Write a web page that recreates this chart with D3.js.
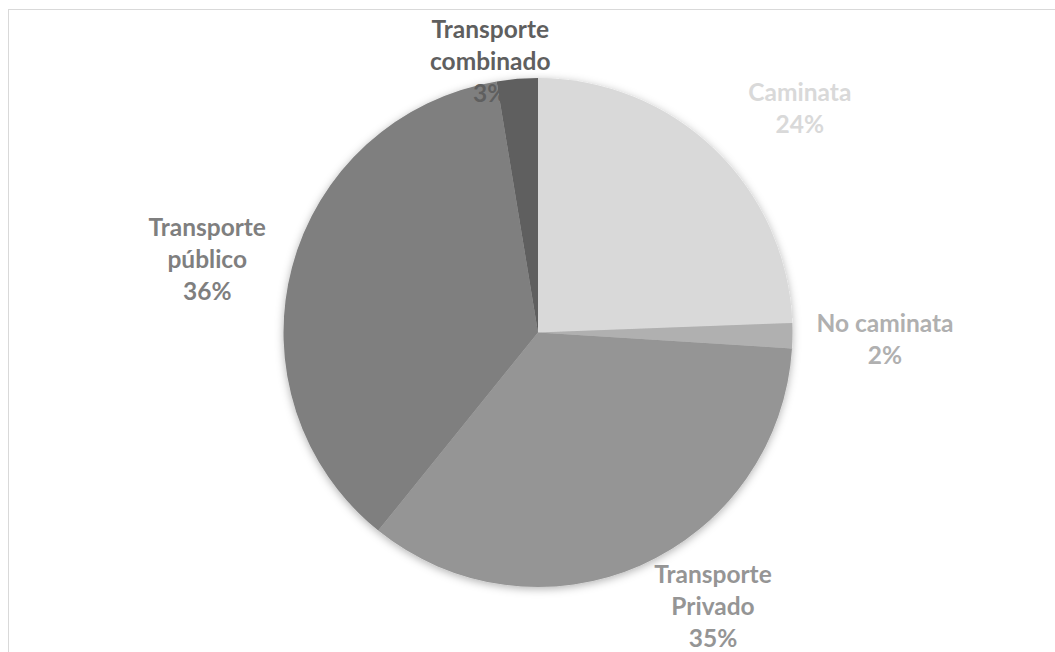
<!DOCTYPE html>
<html>
<head>
<meta charset="utf-8">
<script src="https://cdn.jsdelivr.net/npm/d3@7"></script>
<style>
  body { margin: 0; background: #fff; }
  svg { display: block; }
</style>
</head>
<body>
<div id="chart"></div>
<script>
// Data (slice shares, in percent)
const categories = ["Caminata", "No caminata", "Transporte Privado", "Transporte público", "Transporte combinado"];
const values = [24.4, 1.6, 34.8, 36.6, 2.6];
const labelLines = [
    ["Caminata", "24%"],
    ["No caminata", "2%"],
    ["Transporte", "Privado", "35%"],
    ["Transporte", "público", "36%"],
    ["Transporte", "combinado", "3%"]
];
const colors = ["#d9d9d9", "#b0b0b0", "#959595", "#7f7f7f", "#5f5f5f"];

// label nudges from the outside arc, like excel's "best fit"
const nudges = [[26, 21], [7, 3], [38, -37], [-2, 14], [-20, 68]];

const width = 1055, height = 652;
const cx = 538, cy = 332.5, radius = 254.5;

const svg = d3.select("#chart")
    .append("svg")
    .attr("width", width)
    .attr("height", height);

// chart frame
svg.append("rect")
    .attr("x", 8.5)
    .attr("y", 9.5)
    .attr("width", width)
    .attr("height", height)
    .attr("fill", "none")
    .attr("stroke", "#d9d9d9")
    .attr("stroke-width", 1);

// soft shadow around the pie
const defs = svg.append("defs");
const filter = defs.append("filter")
    .attr("id", "shadow")
    .attr("x", "-10%").attr("y", "-10%")
    .attr("width", "120%").attr("height", "120%");
filter.append("feDropShadow")
    .attr("dx", 0).attr("dy", 2)
    .attr("stdDeviation", 4)
    .attr("flood-color", "#000")
    .attr("flood-opacity", 0.3);

const g = svg.append("g")
    .attr("transform", "translate(" + cx + "," + cy + ")");

const pie = d3.pie().sort(null).value(d => d);
const arcs = pie(values);

const arc = d3.arc().innerRadius(0).outerRadius(radius);
const labelArc = d3.arc().innerRadius(340).outerRadius(340);

const slices = g.append("g").attr("filter", "url(#shadow)");
slices.selectAll("path")
    .data(arcs)
    .enter().append("path")
    .attr("d", arc)
    .attr("fill", (d, i) => colors[i]);

// labels
const lineHeight = 32;
const labels = g.selectAll("text.label")
    .data(arcs)
    .enter().append("text")
    .attr("class", "label")
    .attr("text-anchor", "middle")
    .attr("font-family", "Lato, 'Open Sans', sans-serif")
    .attr("font-weight", "bold")
    .attr("font-size", 24.5)
    .attr("fill", (d, i) => colors[i])
    .attr("transform", (d, i) => {
        const c = labelArc.centroid(d);
        return "translate(" + (c[0] + nudges[i][0]) + "," + (c[1] + nudges[i][1]) + ")";
    });

labels.each(function(d, i) {
    const lines = labelLines[i];
    const top = -(lines.length - 1) * lineHeight / 2;
    d3.select(this).selectAll("tspan")
        .data(lines)
        .enter().append("tspan")
        .attr("x", 0)
        .attr("y", (t, j) => top + j * lineHeight)
        .attr("dy", "0.35em")
        .text(t => t);
});
</script>
</body>
</html>
